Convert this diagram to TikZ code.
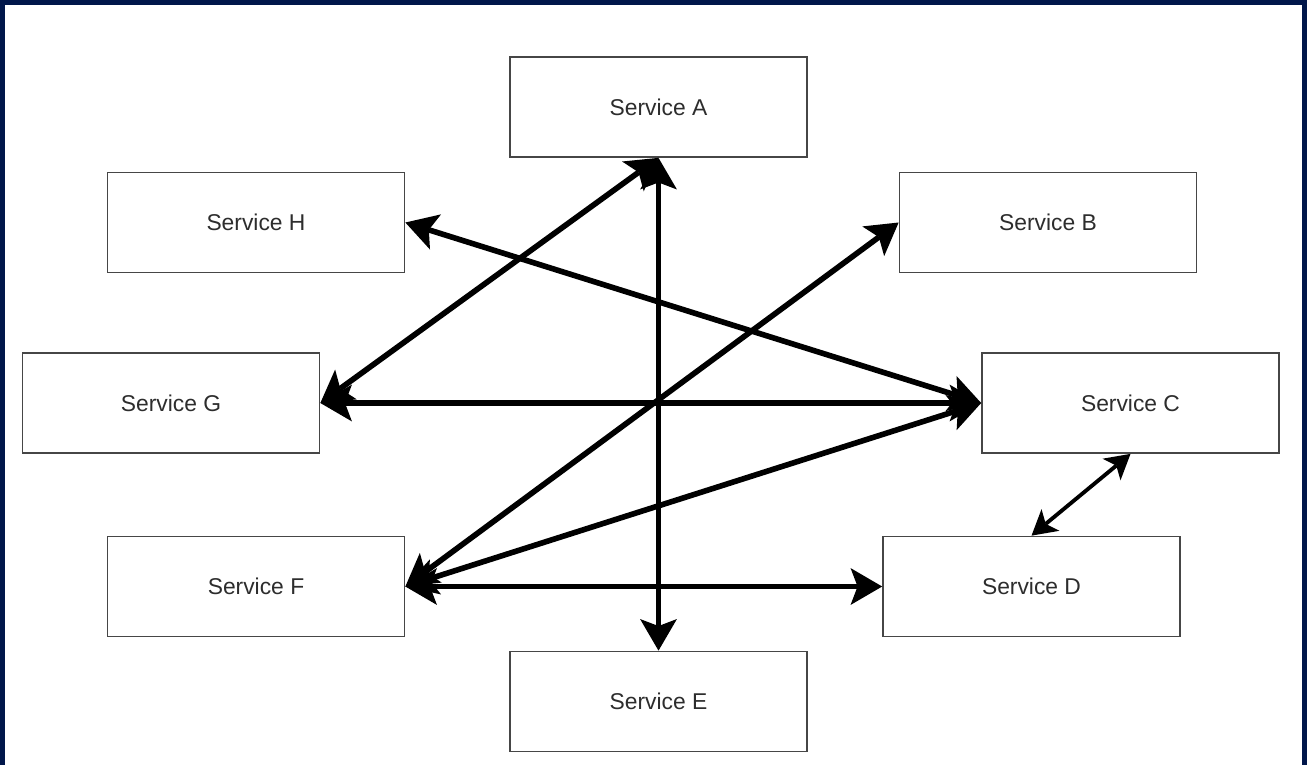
\documentclass[tikz,border=0pt]{standalone}
\usepackage{fontspec}
\setmainfont{Liberation Sans}
\usepackage{xcolor}
\usepackage{tikz}
\usetikzlibrary{arrows.meta}
\usetikzlibrary{positioning}
\definecolor{frameblue}{RGB}{0,22,74}
\definecolor{boxline}{RGB}{70,70,70}
\definecolor{svctext}{RGB}{45,45,45}
\tikzstyle{service}=[draw=boxline,line width=1pt,fill=white,text=svctext,minimum width=5.94cm,minimum height=2cm,inner sep=0,font=\fontsize{13}{15}\selectfont]
\tikzstyle{calls} = [draw,line width=3.2pt,black,{Stealth[length=18pt,width=21pt,inset=4pt,line width=0pt]}-{Stealth[length=18pt,width=21pt,inset=4pt,line width=0pt]}]
\tikzstyle{callsthin} = [draw,line width=2.2pt,black,{Stealth[length=14pt,width=16pt,inset=3.5pt,line width=0pt]}-{Stealth[length=14pt,width=16pt,inset=3.5pt,line width=0pt]}]

\begin{document}
\begin{tikzpicture}[x=0.02cm,y=-0.02cm]
	% frame of the screenshot
	\fill[white] (0,0) rectangle (1307,764);
	\useasboundingbox (0,0) rectangle (1307,764);
	\draw[frameblue,line width=3.5pt] (1.5,766) -- (1.5,1.5) -- (1305.5,1.5) -- (1305.5,766);
	
	\node[service] (a) at (658.5,107) {Service A};
	\node[service] (h) at (256,222.5) {Service H};
	\node[service] (b) at (1048,222.5) {Service B};
	\node[service] (g) at (171,403) {Service G};
	\node[service] (c) at (1130.5,403) {Service C};
	\node[service] (f) at (256,586.5) {Service F};
	\node[service] (d) at (1031.5,586.5) {Service D};
	\node[service] (e) at (658.5,701.5) {Service E};
	
	\path (a.south) edge [calls] (e.north) ;
	\path (a.south) edge [calls] (g.east) ;
	\path (h.east) edge [calls] (c.west) ;
	\path (b.west) edge [calls] (f.east) ;
	\path (g.east) edge [calls] (c.west) ;
	\path (c.west) edge [calls] (f.east) ;
	\path (f.east) edge [calls] (d.west) ;
	
	\path (c.south) edge [callsthin] (d.north) ;

\end{tikzpicture}
\end{document}
